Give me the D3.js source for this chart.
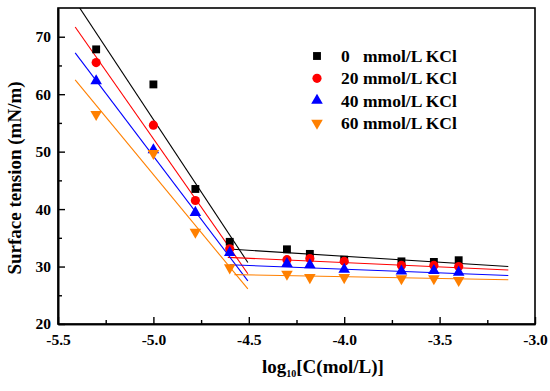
<!DOCTYPE html>
<html>
<head>
<meta charset="utf-8">
<script src="https://cdn.jsdelivr.net/npm/d3@7"></script>
<style>
  html, body { margin: 0; padding: 0; background: #fff; }
  svg { display: block; }
  svg text { font-family: "Liberation Serif", "Times New Roman", serif !important; font-weight: bold !important; fill: #000; }
</style>
</head>
<body>
<svg id="chart" width="550" height="391"></svg>
<script>
// ---------- data ----------
const xValues = [-5.3, -5.0, -4.78, -4.6, -4.3, -4.18, -4.0, -3.7, -3.53, -3.4];
const seriesNames = ["0", "20", "40", "60"];
const legendSuffix = "mmol/L KCl";
const series0 = [67.8, 61.7, 43.5, 34.3, 33.0, 32.2, 31.2, 30.9, 30.8, 31.1];
const series20 = [65.5, 54.6, 41.5, 33.1, 31.2, 31.4, 30.9, 30.2, 30.2, 30.0];
const series40 = [62.3, 50.3, 39.4, 32.4, 30.5, 30.3, 29.5, 29.2, 29.3, 29.0];
const series60 = [56.5, 49.7, 36.0, 29.8, 28.7, 28.1, 28.1, 27.9, 27.9, 27.6];
const colors = ["#000000", "#ff0000", "#0000ff", "#ff8000"];
const symbolsKind = ["square", "circle", "triangleUp", "triangleDown"];
// fitted lines (data units): steep part and plateau part
const steepX = [-5.41, -4.505];
const steepY0 = [76.2, 71.7, 67.2, 62.5];
const steepY1 = [30.7, 28.75, 27.5, 26.1];
const flatX0 = [-4.585, -4.61, -4.60, -4.575];
const flatX1 = -3.14;
const flatY0 = [33.0, 31.6, 30.3, 28.6];
const flatY1 = [30.0, 29.4, 28.45, 27.7];
const xTicks = [-5.5, -5.0, -4.5, -4.0, -3.5, -3.0];
const xMinor = [-5.25, -4.75, -4.25, -3.75, -3.25];
const yTicks = [20, 30, 40, 50, 60, 70];
const yMinor = [25, 35, 45, 55, 65];

const allSeries = [series0, series20, series40, series60];

// ---------- layout ----------
const L = 58, R = 535, T = 8, B = 324;
const svg = d3.select("#chart");
const x = d3.scaleLinear().domain([-5.5, -3.0]).range([L, R]);
const y = d3.scaleLinear().domain([20, 75]).range([B, T]);

svg.append("defs").append("clipPath").attr("id", "clip")
  .append("rect").attr("x", L).attr("y", T).attr("width", R - L).attr("height", B - T);

// frame
svg.append("rect").attr("x", L).attr("y", T).attr("width", R - L).attr("height", B - T)
  .attr("fill", "none").attr("stroke", "#000").attr("stroke-width", 1.6);

// axes
const fmt = d3.format(".1f");
const gx = svg.append("g").attr("transform", `translate(0,${B})`)
  .call(d3.axisBottom(x).tickValues(xTicks).tickFormat(d => (d < 0 ? "-" : "") + fmt(Math.abs(d)))
    .tickSizeInner(-7).tickSizeOuter(0).tickPadding(10));
const gxm = svg.append("g").attr("transform", `translate(0,${B})`)
  .call(d3.axisBottom(x).tickValues(xMinor).tickFormat("").tickSizeInner(-4).tickSizeOuter(0));
const gy = svg.append("g").attr("transform", `translate(${L},0)`)
  .call(d3.axisLeft(y).tickValues(yTicks).tickFormat(d3.format("d")).tickSizeInner(-7).tickSizeOuter(0).tickPadding(7));
const gym = svg.append("g").attr("transform", `translate(${L},0)`)
  .call(d3.axisLeft(y).tickValues(yMinor).tickFormat("").tickSizeInner(-4).tickSizeOuter(0));

[gx, gxm, gy, gym].forEach(g => {
  g.attr("font-family", "Liberation Serif").attr("font-size", 15.5).attr("font-weight", "bold");
  g.select(".domain").attr("stroke", "#000").attr("stroke-width", 1.6);
  g.selectAll(".tick line").attr("stroke", "#000").attr("stroke-width", 1.4);
  g.selectAll("text").attr("font-size", 15.5).style("font-size", "15.5px").attr("fill", "#000");
});

// axis titles
const xt = svg.append("text").attr("x", 262).attr("y", 372.5).style("font-size", "19px");
xt.append("tspan").text("log");
xt.append("tspan").attr("dy", 4.5).style("font-size", "10px").text("10");
xt.append("tspan").attr("dy", -4.5).text("[C(mol/L)]");

svg.append("text").attr("transform", `translate(21,${178}) rotate(-90)`)
  .attr("text-anchor", "middle").style("font-size", "19px").text("Surface tension (mN/m)");

// fitted lines
const lineG = svg.append("g").attr("clip-path", "url(#clip)");
allSeries.forEach((s, i) => {
  lineG.append("line")
    .attr("x1", x(steepX[0])).attr("y1", y(steepY0[i]))
    .attr("x2", x(steepX[1])).attr("y2", y(steepY1[i]))
    .attr("stroke", colors[i]).attr("stroke-width", 1.1);
  lineG.append("line")
    .attr("x1", x(flatX0[i])).attr("y1", y(flatY0[i]))
    .attr("x2", x(flatX1)).attr("y2", y(flatY1[i]))
    .attr("stroke", colors[i]).attr("stroke-width", 1.1);
});

// symbols
function symbolPath(kind) {
  if (kind === "square") return d3.symbol(d3.symbolSquare, 62)();
  if (kind === "circle") return d3.symbol(d3.symbolCircle, 66)();
  return d3.symbol(d3.symbolTriangle, 58)();
}
function place(sel, kind, cx, cy) {
  sel.attr("d", symbolPath(kind))
    .attr("transform", `translate(${cx},${cy})` + (kind === "triangleDown" ? " rotate(180)" : ""));
}

allSeries.forEach((s, i) => {
  svg.append("g").selectAll("path").data(s).join("path")
    .attr("fill", colors[i])
    .each(function (d, j) { place(d3.select(this), symbolsKind[i], x(xValues[j]), y(d)); });
});

// legend
const legendRows = [56, 78.3, 100.5, 123];
seriesNames.forEach((name, i) => {
  const g = svg.append("g");
  place(g.append("path").attr("fill", colors[i]), symbolsKind[i], 317, legendRows[i]);
  g.append("text").attr("x", 341).attr("y", legendRows[i] + 6).style("font-size", "17.5px").text(name);
  g.append("text").attr("x", 363).attr("y", legendRows[i] + 6).style("font-size", "17.5px").text(legendSuffix);
});
</script>
</body>
</html>
